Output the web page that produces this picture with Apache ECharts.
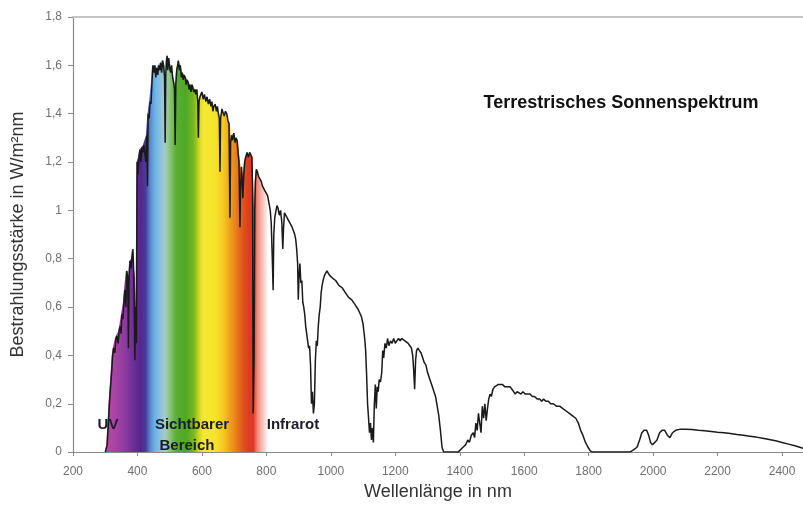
<!DOCTYPE html>
<html>
<head>
<meta charset="utf-8">
<script src="https://cdn.jsdelivr.net/npm/echarts@6/dist/echarts.min.js"></script>
<style>
html,body{margin:0;padding:0;background:#fff;}
#chart{width:803px;height:506px;}
</style>
</head>
<body>
<div id="chart"></div>
<script>
// Wavelength (nm) and spectral irradiance (W/m²nm)
const wavelength = [
300,303,306,310,313,316,320,323,326,330,333,336,340,343,346,349,352,355,358,361,364,367,370,372,374,377,380,383,386,389,392,394,397,
399,402,405,408,411,414,417,420,423,426,429,431,433,436,439,442,445,448,451,454,457,460,463,466,469,472,475,478,481,484,486,488,490,492,494,497,
500,503,506,509,512,515,517,519,522,525,527,530,533,536,539,542,545,548,551,554,557,560,563,566,569,572,575,578,581,584,587,589,591,594,597,
600,604,608,612,616,620,624,628,631,634,637,641,645,648,651,654,656,658,662,665,669,673,677,681,684,687,689,692,695,699,
703,706,709,712,715,718,720,723,727,730,733,736,740,744,748,752,755,757,759,762,764,766,769,772,776,780,784,788,792,796,
800,804,808,812,815,818,821,823,826,830,833,836,840,844,848,851,853,856,860,864,868,872,876,880,884,888,891,894,897,899,
901,904,907,910,913,916,919,922,925,928,931,934,937,940,943,946,949,952,955,958,961,964,967,970,973,976,980,984,988,992,997,
1005,1015,1025,1035,1045,1055,1065,1075,1085,1095,1100,1105,1108,1111,1114,1117,1120,1123,1126,1129,1132,1135,1138,1141,1144,1147,1150,1154,1158,
1161,1164,1168,1172,1176,1180,1185,1190,1195,1200,1205,1210,1215,1220,1225,1230,1235,1240,1245,1250,1254,1257,1260,1263,1266,1270,1275,1280,1285,1290,1295,
1300,1305,1310,1315,1320,1325,1330,1335,1340,1345,1350,1395,
1400,1410,1418,1425,1430,1436,1442,1446,1450,1454,1458,1462,1466,1470,1474,1478,1482,1486,1490,1494,1498,
1503,1508,1514,1520,1526,1532,1540,1548,1556,1562,1567,1572,1578,1584,1590,1596,
1603,1610,1618,1625,1632,1640,1648,1654,1660,1667,1675,1682,1690,1700,1710,1720,1730,1740,1750,1760,1768,1775,1782,1790,1798,1805,1812,
1928,1940,1950,1958,1965,1972,1980,1986,1992,1998,2005,2012,2020,2028,2036,2044,2052,2060,2070,2085,
2100,2120,2140,2160,2180,2200,2220,2240,2260,2280,2300,2320,2340,2360,2380,2400,2420,2440,2460,2470
];
const irradiance = [
0,0.005,0.03,0.12,0.2,0.26,0.33,0.4,0.43,0.41,0.47,0.48,0.45,0.5,0.52,0.49,0.57,0.55,0.62,0.67,0.6,0.75,0.72,0.43,0.73,0.79,0.76,0.8,0.84,0.72,0.38,0.6,0.45,
1.2,1.15,1.22,1.25,1.2,1.26,1.24,1.27,1.27,1.2,1.31,1.1,1.4,1.38,1.45,1.44,1.53,1.6,1.57,1.6,1.55,1.59,1.56,1.6,1.58,1.61,1.57,1.62,1.6,1.55,1.28,1.57,1.62,1.64,1.58,1.63,
1.59,1.57,1.6,1.55,1.53,1.5,1.27,1.52,1.58,1.6,1.62,1.58,1.6,1.55,1.57,1.54,1.56,1.55,1.52,1.54,1.53,1.5,1.52,1.49,1.52,1.52,1.49,1.5,1.48,1.5,1.45,1.3,1.45,1.47,1.48,
1.49,1.46,1.48,1.45,1.47,1.44,1.46,1.43,1.45,1.41,1.43,1.44,1.41,1.43,1.4,1.38,1.16,1.38,1.42,1.42,1.39,1.41,1.4,1.37,1.36,0.97,1.28,1.31,1.29,1.32,
1.28,1.3,1.29,1.24,1.2,0.93,1.1,1.18,1.05,1.15,1.2,1.22,1.24,1.22,1.24,1.23,1.22,1.1,0.16,0.4,1.0,1.12,1.17,1.16,1.14,1.13,1.12,1.1,1.1,1.08,
1.07,1.06,1.03,1.0,0.95,0.82,0.67,0.9,0.97,1.0,1.02,1.01,0.98,1.0,0.95,0.84,0.92,0.99,0.98,0.97,0.96,0.95,0.95,0.93,0.93,0.9,0.88,0.84,0.78,0.63,
0.72,0.78,0.7,0.71,0.62,0.6,0.57,0.52,0.49,0.46,0.43,0.44,0.36,0.2,0.25,0.16,0.2,0.38,0.46,0.44,0.52,0.57,0.6,0.66,0.69,0.71,0.73,0.74,0.75,0.74,0.73,
0.72,0.71,0.69,0.68,0.66,0.64,0.63,0.61,0.59,0.56,0.53,0.47,0.42,0.32,0.2,0.14,0.08,0.12,0.05,0.1,0.04,0.2,0.28,0.18,0.27,0.25,0.3,0.29,0.33,
0.42,0.39,0.45,0.43,0.47,0.44,0.46,0.45,0.47,0.45,0.46,0.47,0.46,0.47,0.47,0.46,0.46,0.45,0.44,0.43,0.4,0.34,0.26,0.38,0.42,0.43,0.42,0.41,0.39,0.37,0.36,
0.33,0.31,0.29,0.27,0.25,0.23,0.19,0.15,0.09,0.02,0,0,
0.005,0.02,0.03,0.05,0.04,0.07,0.08,0.06,0.12,0.09,0.16,0.12,0.08,0.19,0.14,0.2,0.13,0.18,0.22,0.24,0.23,
0.26,0.27,0.27,0.28,0.28,0.28,0.27,0.27,0.27,0.26,0.25,0.24,0.25,0.25,0.24,0.25,
0.24,0.24,0.24,0.23,0.23,0.22,0.22,0.21,0.22,0.21,0.21,0.2,0.2,0.19,0.19,0.18,0.17,0.16,0.15,0.14,0.12,0.09,0.07,0.04,0.02,0.005,0,
0,0.01,0.02,0.05,0.08,0.09,0.09,0.07,0.04,0.03,0.04,0.05,0.08,0.09,0.09,0.07,0.06,0.08,0.09,0.095,
0.095,0.093,0.09,0.088,0.085,0.082,0.08,0.077,0.073,0.07,0.066,0.062,0.057,0.052,0.047,0.04,0.033,0.026,0.018,0.014
];
// Colour bands of the visible region (wavelength in nm -> colour)
const bandWavelengths = [300,330,360,390,410,425,440,455,470,485,500,520,550,575,592,605,640,665,685,705,725,745,760,772,785,800,804];
const bandColors = ['#b54aa5','#a844a4','#8e3aa0','#6a2d95','#552690','#4a3a98','#5a8ad0','#6db6e6','#88c0e0','#a5cbc8','#8cc47a','#5aae32','#4ea826','#78b820','#d4d820','#f4e834','#f6e42a','#f4cc22','#f0a41c','#e8801a','#e05a1e','#dc3c20','#e03a28','#f08878','#f6b8b0','#fde8e6','#ffffff'];
const xTicks = {min: 200, max: 2465, interval: 200};
const yTicks = {min: 0, max: 1.8, interval: 0.2};
const titleText = 'Terrestrisches Sonnenspektrum';
const regionLabels = ['UV', 'Sichtbarer', 'Bereich', 'Infrarot'];

const lineData = wavelength.map((w, i) => [w, irradiance[i]]);
// fill: upper envelope (max within ±3 nm) of the measured curve in the coloured range
const fillLo = bandWavelengths[0], fillHi = bandWavelengths[bandWavelengths.length - 1];
const fillData = [];
wavelength.forEach((w, i) => {
  if (w < fillLo || w > fillHi) return;
  let m = irradiance[i];
  wavelength.forEach((w2, j) => { if (Math.abs(w2 - w) <= 3) m = Math.max(m, irradiance[j]); });
  fillData.push([w, m]);
});
const fMin = fillData[0][0], fMax = fillData[fillData.length - 1][0];
const stops = bandWavelengths.map((w, i) => ({offset: Math.min(1, Math.max(0, (w - fMin) / (fMax - fMin))), color: bandColors[i]}));

const chart = echarts.init(document.getElementById('chart'), null, {renderer: 'canvas'});
const labelFont = {fontFamily: 'Liberation Sans, Arial, sans-serif', fontSize: 12, color: '#6f6f6f'};
const regionFont = 'bold 15px "Liberation Sans", Arial, sans-serif';
chart.setOption({
  animation: false,
  backgroundColor: '#fff',
  grid: {left: 73, right: 0, top: 17, bottom: 49},
  xAxis: [{
    type: 'value', min: xTicks.min, max: xTicks.max, interval: xTicks.interval,
    name: 'Wellenlänge in nm', nameLocation: 'middle', nameGap: 30,
    nameTextStyle: {fontFamily: 'Liberation Sans, Arial, sans-serif', fontSize: 18, color: '#333'},
    axisLine: {lineStyle: {color: '#8a8a8a', width: 1.2}},
    axisTick: {show: true, length: 4, lineStyle: {color: '#8a8a8a'}},
    axisLabel: Object.assign({margin: 14, showMaxLabel: false, formatter: v => String(v)}, labelFont),
    splitLine: {show: false}
  }, {
    type: 'value', position: 'top', min: xTicks.min, max: xTicks.max,
    axisLine: {show: true, lineStyle: {color: '#c4c4c4', width: 1.8}},
    axisTick: {show: false}, axisLabel: {show: false}, splitLine: {show: false}
  }],
  yAxis: {
    type: 'value', min: yTicks.min, max: yTicks.max, interval: yTicks.interval,
    name: 'Bestrahlungsstärke in W/m²nm', nameLocation: 'middle', nameGap: 46, nameRotate: 90,
    nameTextStyle: {fontFamily: 'Liberation Sans, Arial, sans-serif', fontSize: 18, color: '#333'},
    axisLine: {show: true, lineStyle: {color: '#8a8a8a', width: 1.2}},
    axisTick: {show: true, length: 5, lineStyle: {color: '#8a8a8a'}},
    axisLabel: Object.assign({margin: 11, formatter: v => (Math.round(v * 10) / 10).toString().replace('.', ',')}, labelFont),
    splitLine: {show: false}
  },
  series: [{
    type: 'line', data: fillData, symbol: 'none', silent: true,
    lineStyle: {width: 0, opacity: 0},
    areaStyle: {opacity: 1, color: {type: 'linear', x: 0, y: 0, x2: 1, y2: 0, colorStops: stops}},
    z: 1
  }, {
    type: 'line', data: lineData, symbol: 'none', silent: true, sampling: false,
    lineStyle: {color: '#1a1a1a', width: 1.5},
    z: 3
  }],
  graphic: [
    {type: 'text', x: 621, y: 103, style: {text: titleText, align: 'center', verticalAlign: 'middle', font: 'bold 18px "Liberation Sans Narrow", "Liberation Sans", Arial, sans-serif', fill: '#111'}, z: 10},
    {type: 'text', x: 108, y: 425, style: {text: regionLabels[0], align: 'center', verticalAlign: 'middle', font: regionFont, fill: '#1c1c2a'}, z: 10},
    {type: 'text', x: 192, y: 425, style: {text: regionLabels[1], align: 'center', verticalAlign: 'middle', font: regionFont, fill: '#1c1c2a'}, z: 10},
    {type: 'text', x: 187, y: 446, style: {text: regionLabels[2], align: 'center', verticalAlign: 'middle', font: regionFont, fill: '#1c1c2a'}, z: 10},
    {type: 'text', x: 293, y: 425, style: {text: regionLabels[3], align: 'center', verticalAlign: 'middle', font: regionFont, fill: '#1c1c2a'}, z: 10}
  ]
});
</script>
</body>
</html>
